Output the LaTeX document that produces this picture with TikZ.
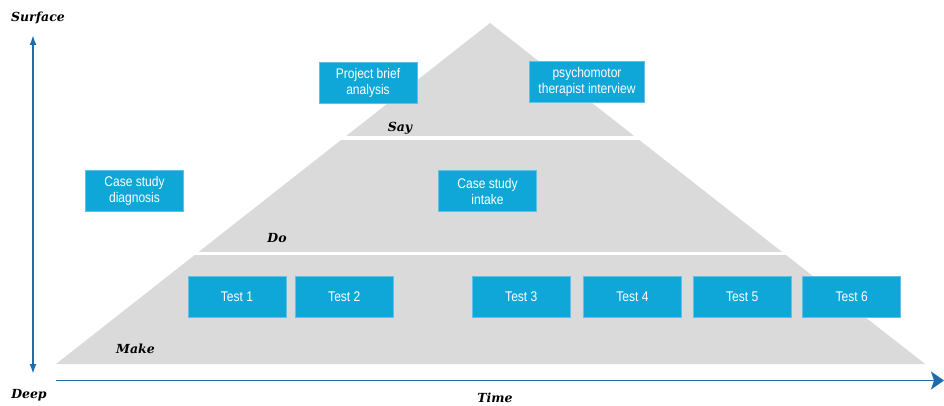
\documentclass[tikz,border=0pt]{standalone}
\usepackage{fontspec}
\usetikzlibrary{arrows.meta}
\newfontfamily\boxfont{Liberation Sans}[FakeStretch=0.86]
\newfontfamily\lvlfont{DejaVu Serif}
\definecolor{layergray}{RGB}{218,218,218}
\definecolor{boxblue}{RGB}{14,167,216}
\definecolor{boxedge}{RGB}{96,192,232}
\definecolor{axisblue}{RGB}{31,108,170}
\begin{document}
\begin{tikzpicture}[x=1pt,y=-1pt,
  stage/.style={draw=boxedge, line width=0.6pt, fill=boxblue, text=white,
    minimum width=98pt, minimum height=41pt, inner sep=0pt, align=center,
    font=\boxfont\fontsize{14}{16}\selectfont},
  lvl/.style={font=\lvlfont\fontsize{12.5}{14}\selectfont\bfseries\itshape, inner sep=0pt},
  axis/.style={draw=axisblue, line width=1.8pt}
]
\useasboundingbox (0,0) rectangle (944,406);

% pyramid and the white gaps between its three layers
\fill[layergray] (490,23) -- (925,364) -- (56,364) -- cycle;
\draw[white, line width=3.4pt] (300,137.9) -- (700,137.9);
\draw[white, line width=3pt] (150,253.6) -- (840,253.6);

% layer names
\node[lvl] (say)  at (400,128.5) {Say};
\node[lvl] (do)   at (277,238.5) {Do};
\node[lvl] (make) at (135.5,348.5) {Make};

% research activities
\node[stage] (brief)   at (368,83)   {Project brief\\analysis};
\node[stage, minimum width=115pt] (psycho) at (587,82) {psychomotor\\therapist interview};
\node[stage] (diag)    at (134.5,191) {Case study\\diagnosis};
\node[stage] (intake)  at (487.5,191) {Case study\\intake};
\node[stage] (t1) at (237,296.5)   {Test 1};
\node[stage] (t2) at (344.3,296.5) {Test 2};
\node[stage] (t3) at (521.3,296.5) {Test 3};
\node[stage] (t4) at (632.5,296.5) {Test 4};
\node[stage] (t5) at (742.2,296.5) {Test 5};
\node[stage] (t6) at (851.7,296.5) {Test 6};

% axes
\coordinate (vtop) at (33,35);
\coordinate (vbot) at (33,374);
\coordinate (hleft) at (56,380.5);
\coordinate (hright) at (944,380.5);
\draw[axis, {Latex[length=10pt,width=7pt]}-{Latex[length=10pt,width=7pt]}] (vtop) -- (vbot);
\draw[axis, -{Stealth[length=13pt,width=18pt,inset=3pt]}] (hleft) -- (hright);

\node[lvl] (surface) at (38,18)  {Surface};
\node[lvl] (deep)    at (29,395) {Deep};
\node[lvl] (time)    at (495,397.5) {Time};
\end{tikzpicture}
\end{document}
